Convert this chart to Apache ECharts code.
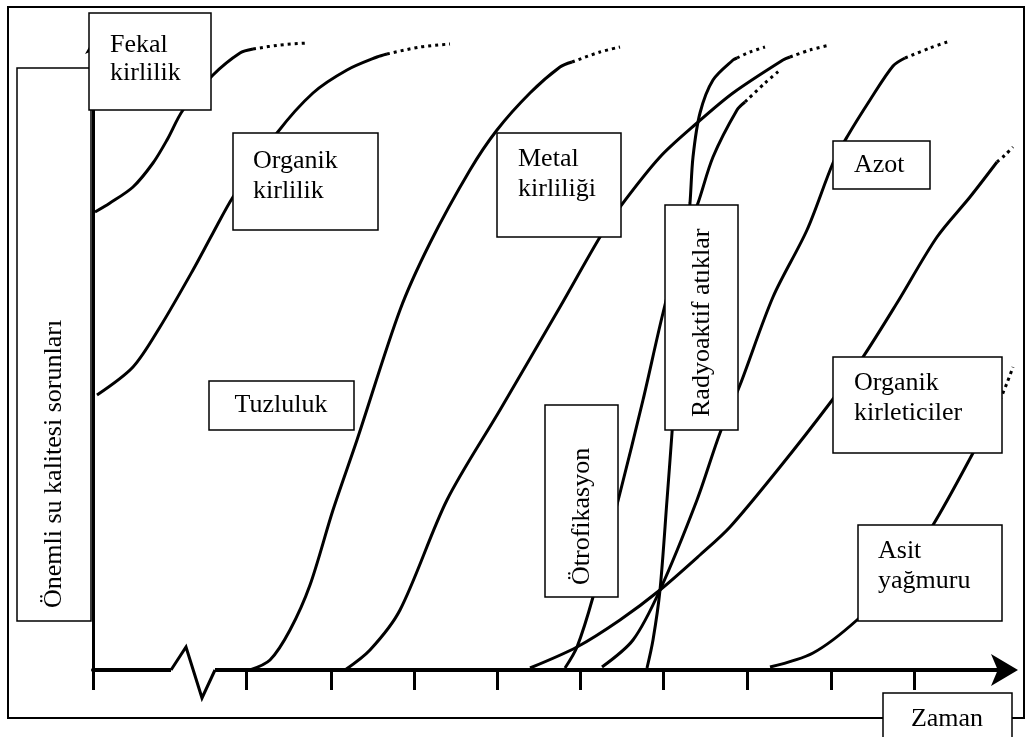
<!DOCTYPE html>
<html>
<head>
<meta charset="utf-8">
<title>Su kalitesi sorunları</title>
<script src="https://cdn.jsdelivr.net/npm/echarts@6.0.0/dist/echarts.min.js"></script>
<style>
  html, body { margin: 0; padding: 0; background: #fff; }
  #chart { width: 1032px; height: 737px; }
</style>
</head>
<body>
<div id="chart"></div>
<script>
// values (x = time, y = importance), solid part + dotted tail
const fekalX = [0.2, 1.7, 4.0, 6.0, 7.4, 9.0, 12.0, 14.7, 16.0];
const fekalY = [45.8, 46.7, 48.3, 50.7, 53.0, 56.0, 59.5, 61.7, 62.1];
const fekalTailX = [16.0, 18.7, 21.4];
const fekalTailY = [62.1, 62.5, 62.7];

const organikX = [0.4, 4.0, 6.7, 10.0, 12.0, 14.0, 18.4, 22.0, 25.4, 28.4, 29.4];
const organikY = [27.5, 30.3, 34.3, 40.0, 43.7, 47.3, 53.7, 57.7, 60.0, 61.3, 61.6];
const organikTailX = [29.4, 32.7, 35.7];
const organikTailY = [61.6, 62.3, 62.6];

const tuzX = [15.7, 17.7, 19.7, 21.7, 24.0, 26.4, 30.7, 33.7, 37.7, 40.4, 43.7, 46.7, 47.9];
const tuzY = [0, 1.0, 4.0, 8.5, 16.0, 23.0, 36.0, 42.7, 50.0, 54.0, 57.7, 60.3, 60.8];
const tuzTailX = [47.9, 50.7, 52.7];
const tuzTailY = [60.8, 61.8, 62.3];

const metalX = [25.2, 27.7, 30.7, 35.4, 40.7, 46.7, 50.7, 52.7, 56.7, 60.4, 64.0, 69.0, 69.7];
const metalY = [0, 2.0, 6.0, 17.0, 26.0, 36.3, 43.3, 46.3, 51.3, 54.7, 57.7, 61.0, 61.3];
const metalTailX = [69.7, 71.7, 73.7];
const metalTailY = [61.3, 62.0, 62.5];

const otroX = [47.2, 48.4, 50.0, 52.7, 55.0, 57.0, 58.7, 60.5, 62.0, 64.4, 65.2];
const otroY = [0.2, 2.3, 7.3, 17.7, 27.0, 35.7, 42.0, 46.7, 51.3, 56.0, 56.8];
const otroTailX = [65.2, 67.2, 68.7];
const otroTailY = [56.8, 58.7, 60.0];

const radyoX = [55.4, 56.0, 56.7, 57.4, 57.9, 58.7, 59.7, 60.0, 60.7, 62.0, 64.0, 64.4];
const radyoY = [0.2, 3.0, 8.0, 17.0, 23.7, 35.0, 46.7, 51.3, 55.7, 59.0, 61.0, 61.2];
const radyoTailX = [64.4, 65.7, 67.2];
const radyoTailY = [61.2, 61.8, 62.3];

const azotX = [50.9, 54.0, 56.7, 60.4, 62.7, 64.7, 68.0, 71.4, 74.0, 75.4, 77.7, 80.0, 81.2];
const azotY = [0.3, 3.0, 8.0, 17.0, 23.7, 28.5, 37.3, 44.0, 50.7, 53.3, 57.0, 60.4, 61.2];
const azotTailX = [81.2, 83.7, 85.7];
const azotTailY = [61.2, 62.2, 62.9];

const kirletX = [43.7, 48.4, 52.7, 56.7, 60.7, 63.7, 68.7, 73.7, 77.0, 80.4, 84.4, 87.7, 90.4];
const kirletY = [0.2, 2.3, 5.0, 8.0, 11.5, 14.3, 20.3, 26.7, 31.3, 36.7, 43.3, 47.3, 50.8];
const kirletTailX = [90.4, 91.2, 92.0];
const kirletTailY = [50.8, 51.5, 52.3];

const asitX = [67.7, 72.0, 76.4, 80.2, 84.0, 88.0, 90.2, 90.7];
const asitY = [0.3, 1.7, 5.0, 9.0, 14.5, 21.7, 26.0, 27.0];
const asitTailX = [90.7, 91.4, 92.0];
const asitTailY = [27.0, 28.7, 30.3];

// time axis ticks and the zigzag break
const tickValues = [0, 15.3, 23.8, 32.1, 40.4, 48.7, 57.0, 65.4, 73.8, 82.1];
const breakX = [7.8, 9.3, 10.9, 12.2];
const breakY = [0, 2.3, -2.8, 0];

const FONT = '26px "Liberation Serif", "Times New Roman", serif';

function pairs(xs, ys) {
  return xs.map((x, i) => [x, ys[i]]);
}

function curve(name, xs, ys, tx, ty) {
  return [
    {
      name: name,
      type: 'line',
      data: pairs(xs, ys),
      smooth: 0.3,
      showSymbol: false,
      clip: false,
      lineStyle: { color: '#000', width: 3 }
    },
    {
      name: name + ' (devam)',
      type: 'line',
      data: pairs(tx, ty),
      smooth: 0.3,
      showSymbol: false,
      clip: false,
      lineStyle: { color: '#000', width: 3, type: [3, 4] }
    }
  ];
}

// white box with a black border + text on top of the curves
function box(x, y, w, h) {
  return {
    type: 'rect', z: 100,
    shape: { x: x, y: y, width: w, height: h },
    style: { fill: '#fff', stroke: '#000', lineWidth: 1.5 }
  };
}
function label(text, x, y, opts) {
  opts = opts || {};
  return {
    type: 'text', z: 101,
    x: x, y: y,
    rotation: opts.rotate ? Math.PI / 2 : 0,
    style: {
      text: text,
      font: FONT,
      fill: '#000',
      lineHeight: opts.lineHeight || 30,
      textAlign: opts.align || 'left',
      textVerticalAlign: 'middle'
    }
  };
}

const chart = echarts.init(document.getElementById('chart'));

const series = []
  .concat(curve('Fekal kirlilik', fekalX, fekalY, fekalTailX, fekalTailY))
  .concat(curve('Organik kirlilik', organikX, organikY, organikTailX, organikTailY))
  .concat(curve('Tuzluluk', tuzX, tuzY, tuzTailX, tuzTailY))
  .concat(curve('Metal kirliliği', metalX, metalY, metalTailX, metalTailY))
  .concat(curve('Ötrofikasyon', otroX, otroY, otroTailX, otroTailY))
  .concat(curve('Radyoaktif atıklar', radyoX, radyoY, radyoTailX, radyoTailY))
  .concat(curve('Azot', azotX, azotY, azotTailX, azotTailY))
  .concat(curve('Organik kirleticiler', kirletX, kirletY, kirletTailX, kirletTailY))
  .concat(curve('Asit yağmuru', asitX, asitY, asitTailX, asitTailY));

// axis break: blank out the axis line, then draw the zigzag
series.push({
  name: 'break-gap',
  type: 'line',
  data: [[breakX[0], 0], [breakX[breakX.length - 1], 0]],
  showSymbol: false,
  clip: false,
  z: 3,
  lineStyle: { color: '#fff', width: 8 }
});
series.push({
  name: 'break',
  type: 'line',
  data: pairs(breakX, breakY),
  showSymbol: false,
  clip: false,
  z: 4,
  lineStyle: { color: '#000', width: 3, join: 'miter' }
});

const option = {
  backgroundColor: '#fff',
  animation: false,
  grid: { left: 93, right: 19, top: 40, bottom: 67 },
  xAxis: {
    type: 'value',
    min: 0,
    max: 92,
    axisLine: {
      show: true,
      symbol: ['none', 'arrow'],
      symbolSize: [24, 27],
      symbolOffset: [0, 5],
      lineStyle: { color: '#000', width: 4 }
    },
    axisTick: {
      show: true,
      customValues: tickValues,
      length: 20,
      lineStyle: { color: '#000', width: 3 }
    },
    axisLabel: { show: false },
    splitLine: { show: false }
  },
  yAxis: {
    type: 'value',
    min: 0,
    max: 63,
    axisLine: {
      show: true,
      symbol: ['none', 'arrow'],
      symbolSize: [12, 14],
      lineStyle: { color: '#000', width: 3 }
    },
    axisTick: { show: false },
    axisLabel: { show: false },
    splitLine: { show: false }
  },
  graphic: [
    // outer frame
    {
      type: 'rect', z: 50,
      shape: { x: 8, y: 7, width: 1016, height: 711 },
      style: { fill: 'none', stroke: '#000', lineWidth: 2 }
    },
    box(17, 68, 74, 553),
    label('Önemli su kalitesi sorunları', 54, 608, { rotate: true }),
    box(89, 13, 122, 97),
    label('Fekal\nkirlilik', 110, 59, { lineHeight: 28 }),
    box(233, 133, 145, 97),
    label('Organik\nkirlilik', 253, 176),
    box(209, 381, 145, 49),
    label('Tuzluluk', 281, 405, { align: 'center' }),
    box(497, 133, 124, 104),
    label('Metal\nkirliliği', 518, 174),
    box(665, 205, 73, 225),
    label('Radyoaktif atıklar', 702, 417, { rotate: true }),
    box(545, 405, 73, 192),
    label('Ötrofikasyon', 582, 585, { rotate: true }),
    box(833, 141, 97, 48),
    label('Azot', 854, 165),
    box(833, 357, 169, 96),
    label('Organik\nkirleticiler', 854, 398),
    box(858, 525, 144, 96),
    label('Asit\nyağmuru', 878, 566),
    box(883, 693, 129, 60),
    label('Zaman', 947, 719, { align: 'center' })
  ],
  series: series
};

chart.setOption(option);
window.addEventListener('resize', function () {
  chart.resize();
});
</script>
</body>
</html>
